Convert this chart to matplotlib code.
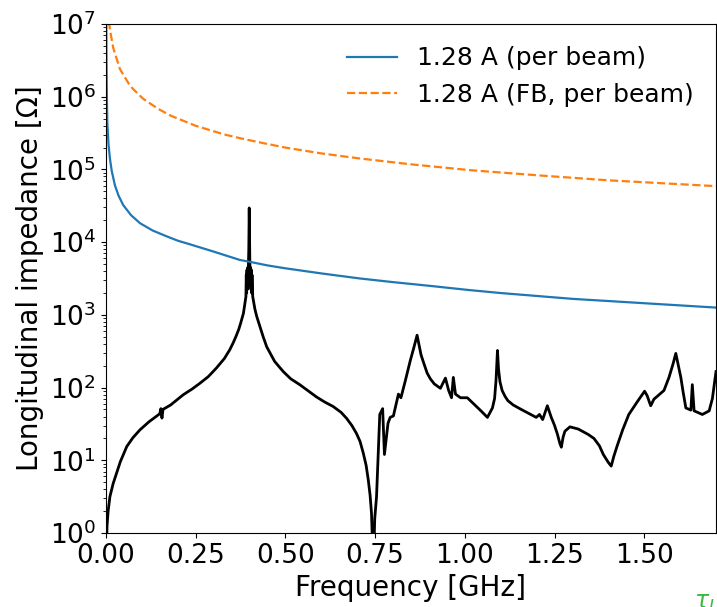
import numpy as np
import matplotlib
matplotlib.use("Agg")
import matplotlib.pyplot as plt

# Blue: 1.28 A (per beam) -- (frequency GHz, log10 impedance)
blue_f = [0.0008, 0.0015, 0.0025, 0.0037, 0.007, 0.011, 0.016, 0.025, 0.035,
          0.048, 0.07, 0.095, 0.13, 0.169, 0.2, 0.234, 0.30, 0.373, 0.4,
          0.45, 0.5, 0.6, 0.708, 0.8, 0.9, 1.014, 1.1, 1.2, 1.3, 1.4, 1.5,
          1.6, 1.70]
blue_logz = [7.1, 6.5, 6.0, 5.65, 5.35, 5.15, 4.98, 4.78, 4.64,
             4.51, 4.37, 4.26, 4.16, 4.08, 4.02, 3.97, 3.87, 3.755, 3.73,
             3.68, 3.64, 3.57, 3.50, 3.45, 3.40, 3.34, 3.30, 3.26, 3.22,
             3.19, 3.16, 3.13, 3.10]

# Orange: 1.28 A (FB, per beam)
orange_f = [0.006, 0.0092, 0.013, 0.0203, 0.028, 0.039, 0.05, 0.067, 0.085,
            0.104, 0.125, 0.15, 0.18, 0.215, 0.25, 0.29, 0.33, 0.373, 0.43,
            0.5, 0.6, 0.708, 0.85, 1.014, 1.2, 1.4, 1.55, 1.70]
orange_logz = [7.2, 6.99, 6.87, 6.67, 6.55, 6.38, 6.29, 6.15, 6.06,
               5.97, 5.90, 5.82, 5.74, 5.67, 5.60, 5.54, 5.48, 5.43, 5.37,
               5.30, 5.22, 5.15, 5.07, 4.99, 4.92, 4.85, 4.81, 4.77]

# Black: impedance spectrum
black_f = [0.0, 0.003, 0.006, 0.011, 0.02, 0.03, 0.04, 0.058, 0.075, 0.095,
           0.12, 0.15, 0.153, 0.156, 0.159, 0.18, 0.215, 0.24, 0.262, 0.285,
           0.308, 0.33, 0.345, 0.354, 0.362, 0.37, 0.375, 0.383, 0.386, 0.390,
           0.391, 0.392, 0.393, 0.394, 0.395, 0.396, 0.397, 0.398, 0.3992,
           0.4005, 0.401, 0.402, 0.403, 0.404, 0.405, 0.406, 0.407, 0.409,
           0.415, 0.42, 0.429, 0.438, 0.448, 0.47, 0.494, 0.515, 0.54, 0.565,
           0.587, 0.61, 0.633, 0.655, 0.67, 0.685, 0.698, 0.708, 0.717, 0.725,
           0.731, 0.736, 0.74, 0.745, 0.749, 0.754, 0.758, 0.763, 0.771, 0.776,
           0.786, 0.792, 0.801, 0.815, 0.822, 0.834, 0.848, 0.858, 0.867,
           0.872, 0.878, 0.886, 0.895, 0.904, 0.915, 0.932, 0.946, 0.955,
           0.963, 0.968, 0.974, 0.988, 1.007, 1.026, 1.045, 1.063, 1.077,
           1.083, 1.087, 1.091, 1.094, 1.098, 1.104, 1.112, 1.12, 1.135,
           1.157, 1.18, 1.199, 1.208, 1.217, 1.23, 1.241, 1.25, 1.258, 1.265,
           1.269, 1.274, 1.279, 1.293, 1.316, 1.344, 1.36, 1.375, 1.386, 1.40,
           1.408, 1.415, 1.424, 1.44, 1.457, 1.48, 1.501, 1.508, 1.518, 1.527,
           1.555, 1.569, 1.58, 1.588, 1.594, 1.602, 1.608, 1.616, 1.63, 1.634,
           1.639, 1.662, 1.681, 1.69, 1.70]
black_logz = [-0.5, 0.1, 0.3, 0.5, 0.68, 0.83, 0.98, 1.19, 1.31, 1.42,
              1.53, 1.64, 1.71, 1.58, 1.70, 1.76, 1.90, 1.98, 2.06, 2.15,
              2.27, 2.40, 2.52, 2.61, 2.70, 2.80, 2.88, 3.02, 3.12, 3.25,
              3.55, 3.30, 3.62, 3.35, 3.65, 3.40, 3.70, 3.90, 4.47,
              3.90, 3.70, 3.40, 3.65, 3.35, 3.62, 3.30, 3.55, 3.25,
              3.08, 2.98, 2.84, 2.70, 2.56, 2.36, 2.22, 2.12, 2.04, 1.95,
              1.87, 1.80, 1.74, 1.66, 1.58, 1.48, 1.37, 1.26, 1.10, 0.93,
              0.73, 0.52, 0.27, -0.5, 0.2, 0.5, 1.0, 1.63, 1.71, 1.08,
              1.51, 1.59, 1.61, 1.91, 1.86, 2.09, 2.37, 2.55, 2.72,
              2.60, 2.45, 2.33, 2.20, 2.12, 2.05, 1.99, 2.13, 1.96,
              1.86, 2.14, 1.91, 1.86, 1.86, 1.77, 1.68, 1.59, 1.72,
              1.85, 2.10, 2.51, 2.25, 2.08, 1.96, 1.88, 1.82, 1.76,
              1.70, 1.64, 1.59, 1.63, 1.56, 1.75, 1.59, 1.48, 1.36, 1.23,
              1.18, 1.32, 1.40, 1.46, 1.43, 1.355, 1.30, 1.20, 1.08, 0.97,
              0.92, 1.05, 1.19, 1.42, 1.63, 1.80, 1.95, 1.89, 1.75, 1.84,
              1.96, 2.14, 2.32, 2.47, 2.33, 2.14, 1.95, 1.72, 1.69, 2.04,
              1.68, 1.63, 1.68, 1.85, 2.22]

fig = plt.figure(figsize=(7.17, 6.07), dpi=100)
ax = fig.add_axes([0.1478, 0.1219, 0.8508, 0.8386])

ax.plot(black_f, 10 ** np.array(black_logz), color='black', lw=2.0)
ax.plot(blue_f, 10 ** np.array(blue_logz), color='#1f77b4', lw=1.6,
        label='1.28 A (per beam)')
ax.plot(orange_f, 10 ** np.array(orange_logz), color='#ff7f0e', lw=1.6,
        ls='--', label='1.28 A (FB, per beam)')

ax.set_yscale('log')
ax.set_xlim(0, 1.7)
ax.set_ylim(1, 1e7)
ax.set_xticks([0.0, 0.25, 0.5, 0.75, 1.0, 1.25, 1.5])
ax.set_xticklabels(['0.00', '0.25', '0.50', '0.75', '1.00', '1.25', '1.50'])
ax.tick_params(labelsize=19)
ax.set_xlabel('Frequency [GHz]', fontsize=20)
ax.set_ylabel('Longitudinal impedance [Ω]', fontsize=20)
ax.legend(loc='upper right', fontsize=18, frameon=False)

fig.text(0.968, 0.026, r'$\tau_{L}$', color='#3cb83c', fontsize=17,
         ha='left', va='top')

fig.savefig('out.png', dpi=100)
